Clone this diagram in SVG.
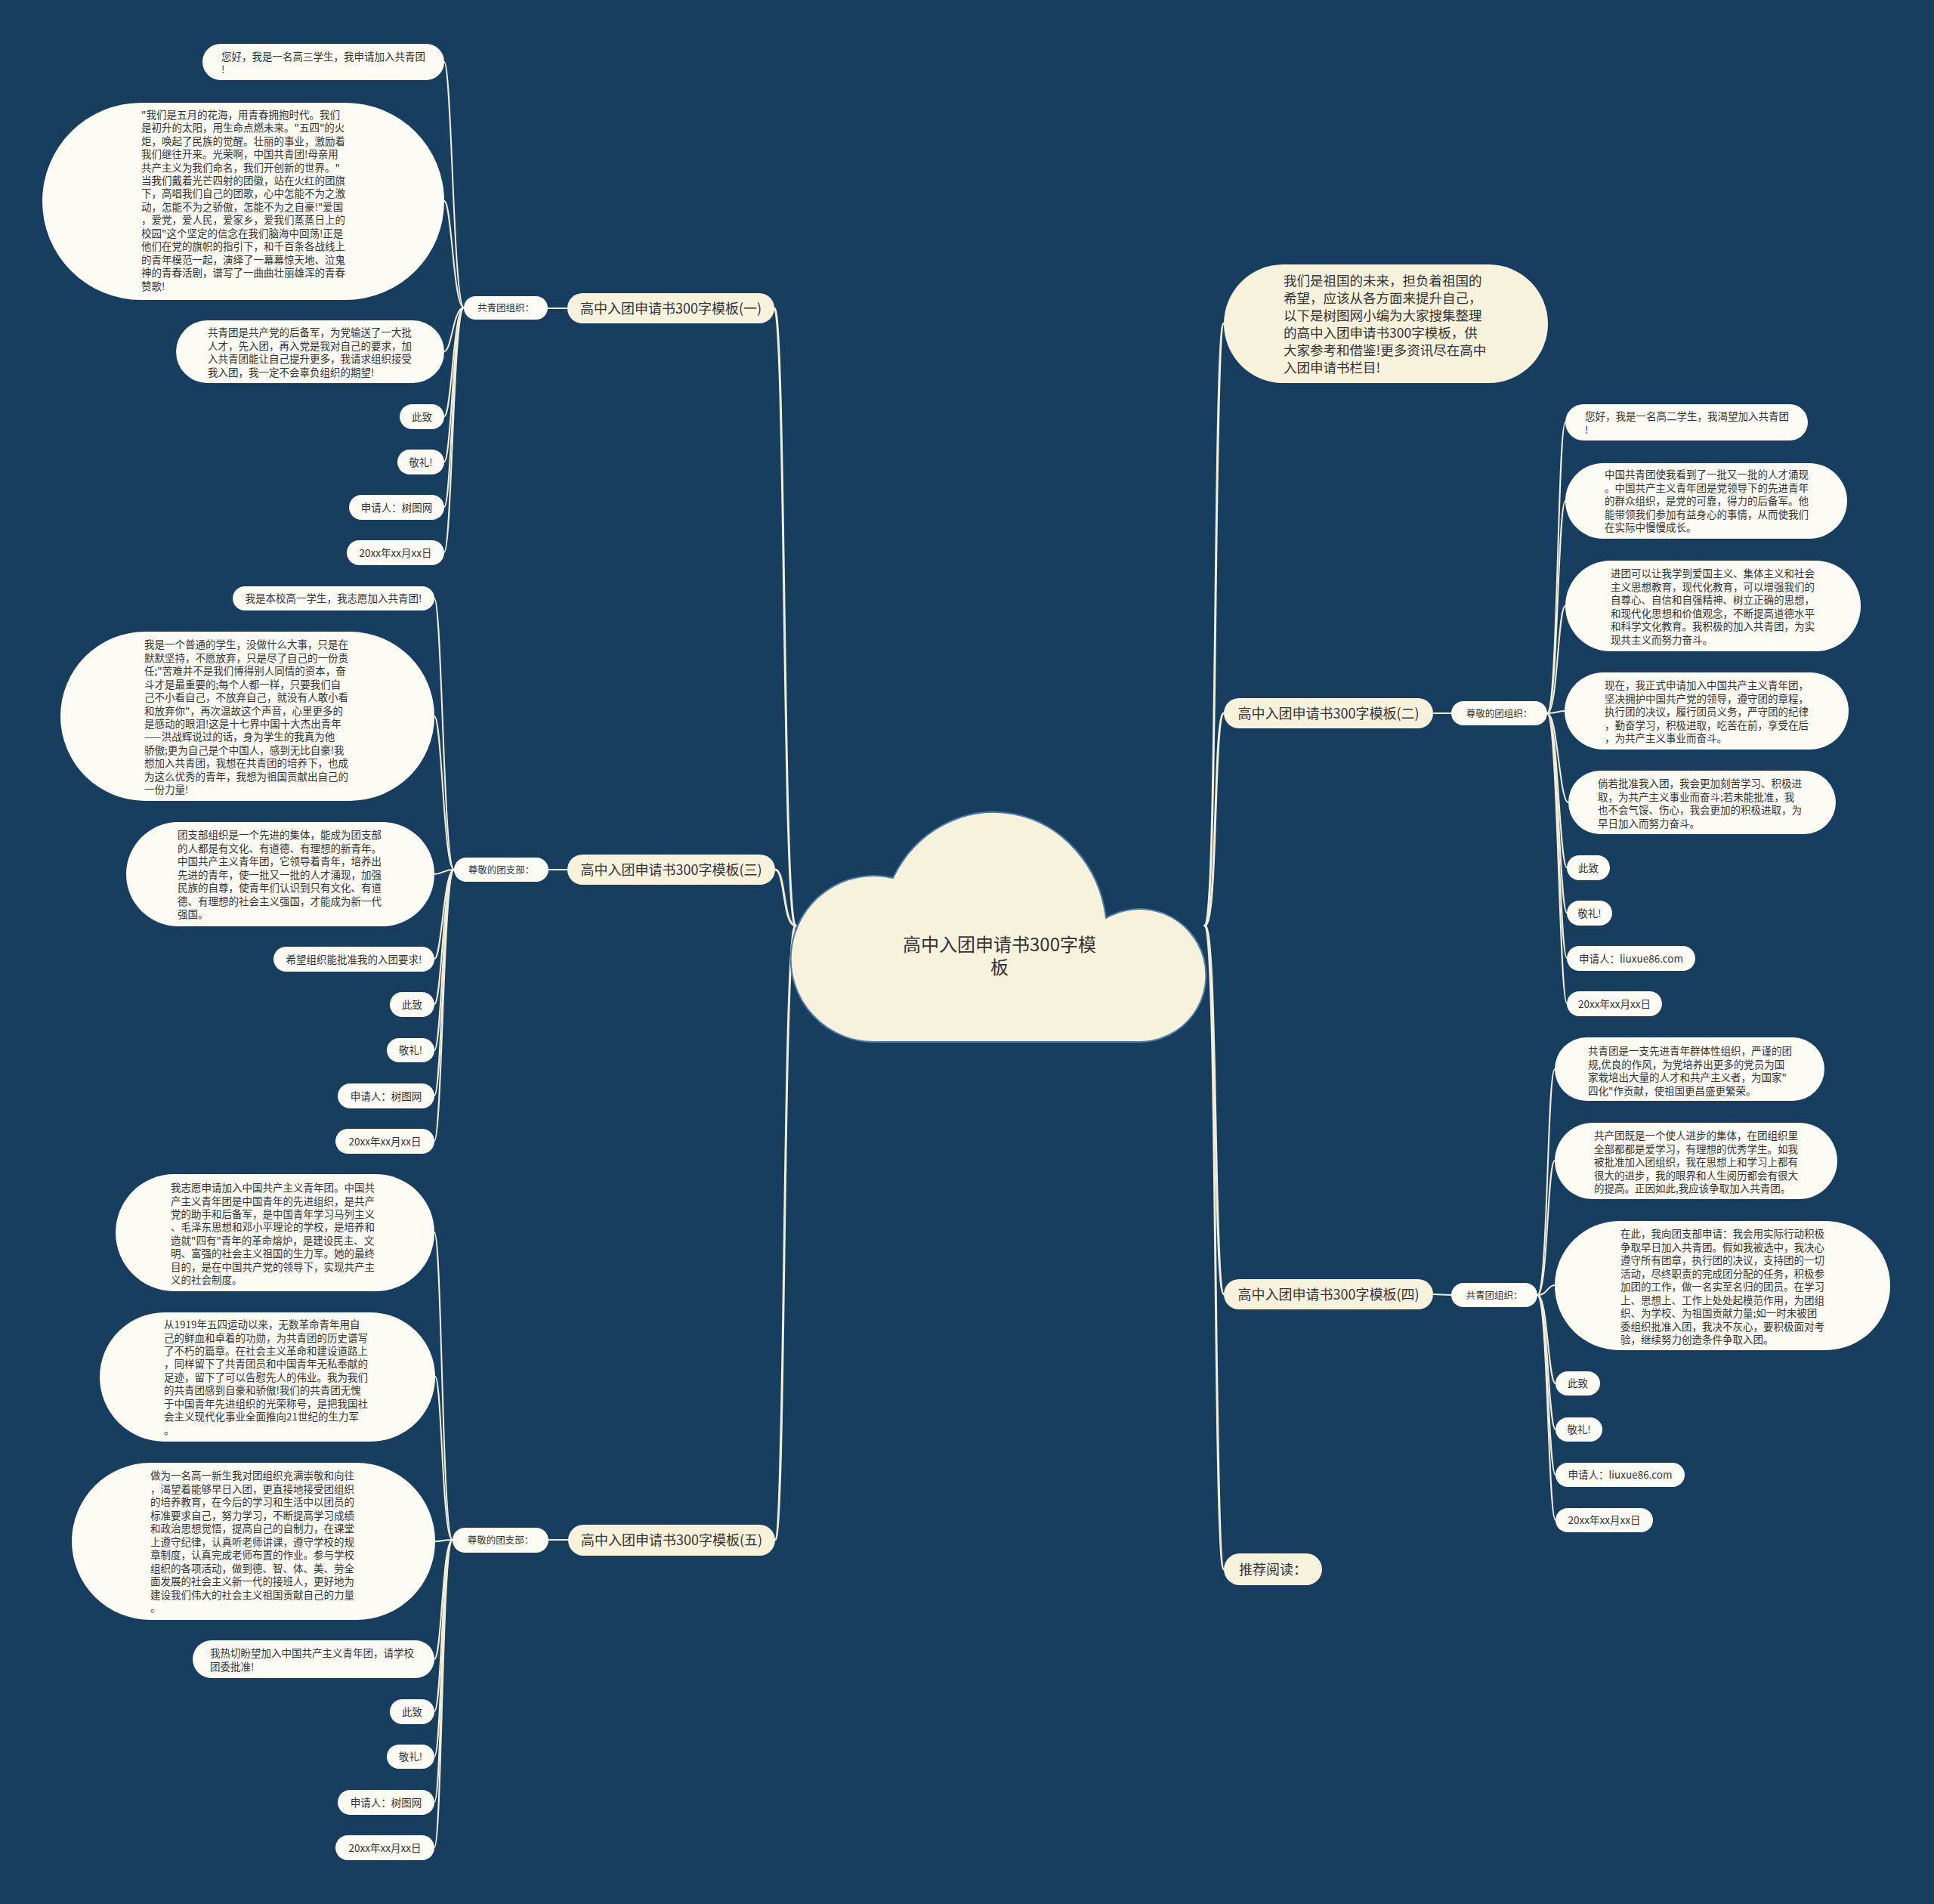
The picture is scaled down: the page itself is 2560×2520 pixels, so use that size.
<svg xmlns="http://www.w3.org/2000/svg" width="2560" height="2520" viewBox="0 0 2560 2520">
<style>
.n{fill:#fcfbf4}
.c{fill:#f7f2dc}
text{font-family:"Noto Sans CJK SC","Noto Sans",sans-serif;fill:#333333}
.t{font-size:13.5px}
.m{font-size:13.5px;text-anchor:middle}
.lb{font-size:12.5px;text-anchor:middle}
.mt{font-size:18px;text-anchor:middle}
.it{font-size:17.5px}
.ct{font-size:24px;text-anchor:middle}
.ln{fill:none;stroke:#f2edd7;stroke-width:2;stroke-linecap:round}
.mln{fill:none;stroke:#f2edd7;stroke-width:3;stroke-linecap:round}
</style>
<rect x="0" y="0" width="2560" height="2520" fill="#183e5f"/>

<g id="connectors">
<path class="mln" d="M1053,1225 C1036,1225 1040,408 1025,408"/>
<path class="mln" d="M1053,1225 C1036,1225 1040,1151 1026,1151"/>
<path class="mln" d="M1053,1225 C1036,1225 1040,2038 1026,2038"/>
<path class="mln" d="M1595,1225 C1612,1225 1606,428 1620,428"/>
<path class="mln" d="M1595,1225 C1612,1225 1606,944 1620,944"/>
<path class="mln" d="M1595,1225 C1612,1225 1606,1713 1620,1713"/>
<path class="mln" d="M1595,1225 C1612,1225 1606,2077 1620,2077"/>
<path class="ln" d="M751,408 L725,408"/>
<path class="ln" d="M751,1151 L726,1151"/>
<path class="ln" d="M752,2038 L726,2038"/>
<path class="ln" d="M1897,944 L1921,944"/>
<path class="ln" d="M1897,1713 L1921,1714"/>
<path class="ln" d="M614,407 C600,407 598,82 588,82"/>
<path class="ln" d="M614,407 C600,407 598,266 588,266"/>
<path class="ln" d="M614,407 C600,407 598,465 588,465"/>
<path class="ln" d="M614,407 C600,407 598,551 588,551"/>
<path class="ln" d="M614,407 C600,407 598,611 588,611"/>
<path class="ln" d="M614,407 C600,407 598,671 588,671"/>
<path class="ln" d="M614,407 C600,407 598,731 588,731"/>
<path class="ln" d="M601,1151 C587,1151 585,792 575,792"/>
<path class="ln" d="M601,1151 C587,1151 585,948 575,948"/>
<path class="ln" d="M601,1151 C587,1151 585,1157 575,1157"/>
<path class="ln" d="M601,1151 C587,1151 585,1269 575,1269"/>
<path class="ln" d="M601,1151 C587,1151 585,1329 575,1329"/>
<path class="ln" d="M601,1151 C587,1151 585,1390 575,1390"/>
<path class="ln" d="M601,1151 C587,1151 585,1450 575,1450"/>
<path class="ln" d="M601,1151 C587,1151 585,1510 575,1510"/>
<path class="ln" d="M599,2038 C585,2038 585,1631 575,1631"/>
<path class="ln" d="M599,2038 C585,2038 585,1822 576,1822"/>
<path class="ln" d="M599,2038 C585,2038 585,2040 576,2040"/>
<path class="ln" d="M599,2038 C585,2038 585,2196 575,2196"/>
<path class="ln" d="M599,2038 C585,2038 585,2265 575,2265"/>
<path class="ln" d="M599,2038 C585,2038 585,2325 575,2325"/>
<path class="ln" d="M599,2038 C585,2038 585,2385 575,2385"/>
<path class="ln" d="M599,2038 C585,2038 585,2445 575,2445"/>
<path class="ln" d="M2048,944 C2062,944 2062,559 2072,559"/>
<path class="ln" d="M2048,944 C2062,944 2062,663 2072,663"/>
<path class="ln" d="M2048,944 C2062,944 2062,802 2072,802"/>
<path class="ln" d="M2048,944 C2062,944 2062,941 2071,941"/>
<path class="ln" d="M2048,944 C2062,944 2064,1062 2076,1062"/>
<path class="ln" d="M2048,944 C2062,944 2064,1148 2074,1148"/>
<path class="ln" d="M2048,944 C2062,944 2064,1208 2074,1208"/>
<path class="ln" d="M2048,944 C2062,944 2064,1268 2074,1268"/>
<path class="ln" d="M2048,944 C2062,944 2064,1328 2074,1328"/>
<path class="ln" d="M2035,1714 C2049,1714 2048,1415 2058,1415"/>
<path class="ln" d="M2035,1714 C2049,1714 2048,1536 2058,1536"/>
<path class="ln" d="M2035,1714 C2049,1714 2048,1701 2058,1701"/>
<path class="ln" d="M2035,1714 C2049,1714 2049,1831 2059,1831"/>
<path class="ln" d="M2035,1714 C2049,1714 2049,1892 2059,1892"/>
<path class="ln" d="M2035,1714 C2049,1714 2049,1952 2059,1952"/>
<path class="ln" d="M2035,1714 C2049,1714 2049,2012 2059,2012"/>
</g>

<g id="center">
<path d="M1160,1379 A110,110 0 1 1 1182,1162 A150,161 0 0 1 1464,1215 A88,88 0 1 1 1510,1379 Z" fill="#f7f2dc" stroke="#4d7ca5" stroke-width="2"/>
<text class="ct" x="1323" y="1258.5">高中入团申请书300字模</text>
<text class="ct" x="1323" y="1288.5">板</text>
</g>

<!-- Branch 一 -->
<g id="b1">
<rect class="c" x="751" y="388" width="274" height="40" rx="20"/>
<text class="mt" x="888" y="414.5">高中入团申请书300字模板(一)</text>
</g>
<g id="b1-label">
<rect class="n" x="614" y="392" width="111" height="31" rx="15.5"/>
<text class="lb" x="669.5" y="412">共青团组织：</text>
</g>
<g id="b1-c1">
<rect class="n" x="268" y="58" width="320" height="48" rx="24"/>
<text class="t"><tspan x="293" y="80">您好，我是一名高三学生，我申请加入共青团</tspan><tspan x="293" y="97">!</tspan></text>
</g>
<g id="b1-c2">
<rect class="n" x="56" y="136" width="532" height="261" rx="130.5"/>
<text class="t"><tspan x="187" y="156.7">"我们是五月的花海，用青春拥抱时代。我们</tspan><tspan x="187" y="174.2">是初升的太阳，用生命点燃未来。"五四"的火</tspan><tspan x="187" y="191.6">炬，唤起了民族的觉醒。壮丽的事业，激励着</tspan><tspan x="187" y="209.1">我们继往开来。光荣啊，中国共青团!母亲用</tspan><tspan x="187" y="226.5">共产主义为我们命名，我们开创新的世界。"</tspan><tspan x="187" y="244">当我们戴着光芒四射的团徽，站在火红的团旗</tspan><tspan x="187" y="261.4">下，高唱我们自己的团歌，心中怎能不为之激</tspan><tspan x="187" y="278.9">动，怎能不为之骄傲，怎能不为之自豪!"爱国</tspan><tspan x="187" y="296.3">，爱党，爱人民，爱家乡，爱我们蒸蒸日上的</tspan><tspan x="187" y="313.8">校园"这个坚定的信念在我们脑海中回荡!正是</tspan><tspan x="187" y="331.2">他们在党的旗帜的指引下，和千百条各战线上</tspan><tspan x="187" y="348.7">的青年模范一起，演绎了一幕幕惊天地、泣鬼</tspan><tspan x="187" y="366.1">神的青春活剧，谱写了一曲曲壮丽雄浑的青春</tspan><tspan x="187" y="383.6">赞歌!</tspan></text>
</g>
<g id="b1-c3">
<rect class="n" x="233" y="424" width="355" height="83" rx="41.5"/>
<text class="t"><tspan x="275" y="445">共青团是共产党的后备军，为党输送了一大批</tspan><tspan x="275" y="462.6">人才，先入团，再入党是我对自己的要求，加</tspan><tspan x="275" y="480.2">入共青团能让自己提升更多，我请求组织接受</tspan><tspan x="275" y="497.8">我入团，我一定不会辜负组织的期望!</tspan></text>
</g>
<g id="b1-c4"><rect class="n" x="529" y="535" width="59" height="33" rx="16.5"/><text class="m" x="558.5" y="556.5">此致</text></g>
<g id="b1-c5"><rect class="n" x="526" y="595" width="62" height="33" rx="16.5"/><text class="m" x="557" y="616.5">敬礼!</text></g>
<g id="b1-c6"><rect class="n" x="462" y="655" width="126" height="33" rx="16.5"/><text class="m" x="525" y="676.5">申请人：树图网</text></g>
<g id="b1-c7"><rect class="n" x="459" y="715" width="129" height="33" rx="16.5"/><text class="m" x="523.5" y="736.5">20xx年xx月xx日</text></g>

<!-- Branch 三 -->
<g id="b3">
<rect class="c" x="751" y="1131" width="275" height="40" rx="20"/>
<text class="mt" x="888.5" y="1157.5">高中入团申请书300字模板(三)</text>
</g>
<g id="b3-label">
<rect class="n" x="601" y="1135" width="125" height="32" rx="16"/>
<text class="lb" x="663.5" y="1155.5">尊敬的团支部：</text>
</g>
<g id="b3-c1"><rect class="n" x="308" y="776" width="267" height="32" rx="16"/><text class="m" x="441.5" y="797">我是本校高一学生，我志愿加入共青团!</text></g>
<g id="b3-c2">
<rect class="n" x="80" y="836" width="495" height="224" rx="112"/>
<text class="t"><tspan x="191" y="858.3">我是一个普通的学生，没做什么大事，只是在</tspan><tspan x="191" y="875.7">默默坚持，不愿放弃，只是尽了自己的一份责</tspan><tspan x="191" y="893.2">任;"苦难并不是我们博得别人同情的资本，奋</tspan><tspan x="191" y="910.6">斗才是最重要的;每个人都一样，只要我们自</tspan><tspan x="191" y="928">己不小看自己，不放弃自己，就没有人敢小看</tspan><tspan x="191" y="945.5">和放弃你"，再次温故这个声音，心里更多的</tspan><tspan x="191" y="962.9">是感动的眼泪!这是十七界中国十大杰出青年</tspan><tspan x="191" y="980.3">——洪战辉说过的话，身为学生的我真为他</tspan><tspan x="191" y="997.7">骄傲;更为自己是个中国人，感到无比自豪!我</tspan><tspan x="191" y="1015.2">想加入共青团，我想在共青团的培养下，也成</tspan><tspan x="191" y="1032.6">为这么优秀的青年，我想为祖国贡献出自己的</tspan><tspan x="191" y="1050">一份力量!</tspan></text>
</g>
<g id="b3-c3">
<rect class="n" x="167" y="1088" width="408" height="138" rx="69"/>
<text class="t"><tspan x="235" y="1110">团支部组织是一个先进的集体，能成为团支部</tspan><tspan x="235" y="1127.5">的人都是有文化、有道德、有理想的新青年。</tspan><tspan x="235" y="1145">中国共产主义青年团，它领导着青年，培养出</tspan><tspan x="235" y="1162.5">先进的青年，使一批又一批的人才涌现，加强</tspan><tspan x="235" y="1180">民族的自尊，使青年们认识到只有文化、有道</tspan><tspan x="235" y="1197.5">德、有理想的社会主义强国，才能成为新一代</tspan><tspan x="235" y="1215">强国。</tspan></text>
</g>
<g id="b3-c4"><rect class="n" x="362" y="1253" width="213" height="33" rx="16.5"/><text class="m" x="468.5" y="1274.5">希望组织能批准我的入团要求!</text></g>
<g id="b3-c5"><rect class="n" x="516" y="1313" width="59" height="33" rx="16.5"/><text class="m" x="545.5" y="1334.5">此致</text></g>
<g id="b3-c6"><rect class="n" x="512" y="1374" width="63" height="32" rx="16"/><text class="m" x="543.5" y="1395">敬礼!</text></g>
<g id="b3-c7"><rect class="n" x="447" y="1434" width="128" height="33" rx="16.5"/><text class="m" x="511" y="1455.5">申请人：树图网</text></g>
<g id="b3-c8"><rect class="n" x="444" y="1494" width="131" height="33" rx="16.5"/><text class="m" x="509.5" y="1515.5">20xx年xx月xx日</text></g>

<!-- Branch 五 -->
<g id="b5">
<rect class="c" x="752" y="2018" width="274" height="41" rx="20.5"/>
<text class="mt" x="889" y="2045">高中入团申请书300字模板(五)</text>
</g>
<g id="b5-label">
<rect class="n" x="599" y="2022" width="127" height="33" rx="16.5"/>
<text class="lb" x="662.5" y="2043">尊敬的团支部：</text>
</g>
<g id="b5-c1">
<rect class="n" x="153" y="1554" width="422" height="155" rx="77.5"/>
<text class="t"><tspan x="226" y="1577">我志愿申请加入中国共产主义青年团。中国共</tspan><tspan x="226" y="1594.5">产主义青年团是中国青年的先进组织，是共产</tspan><tspan x="226" y="1611.9">党的助手和后备军，是中国青年学习马列主义</tspan><tspan x="226" y="1629.4">、毛泽东思想和邓小平理论的学校，是培养和</tspan><tspan x="226" y="1646.8">造就"四有"青年的革命熔炉，是建设民主、文</tspan><tspan x="226" y="1664.3">明、富强的社会主义祖国的生力军。她的最终</tspan><tspan x="226" y="1681.7">目的，是在中国共产党的领导下，实现共产主</tspan><tspan x="226" y="1699.2">义的社会制度。</tspan></text>
</g>
<g id="b5-c2">
<rect class="n" x="132" y="1737" width="444" height="171" rx="85.5"/>
<text class="t"><tspan x="217" y="1758">从1919年五四运动以来，无数革命青年用自</tspan><tspan x="217" y="1775.5">己的鲜血和卓着的功勋，为共青团的历史谱写</tspan><tspan x="217" y="1792.9">了不朽的篇章。在社会主义革命和建设道路上</tspan><tspan x="217" y="1810.4">，同样留下了共青团员和中国青年无私奉献的</tspan><tspan x="217" y="1827.8">足迹，留下了可以告慰先人的伟业。我为我们</tspan><tspan x="217" y="1845.3">的共青团感到自豪和骄傲!我们的共青团无愧</tspan><tspan x="217" y="1862.7">于中国青年先进组织的光荣称号，是把我国社</tspan><tspan x="217" y="1880.2">会主义现代化事业全面推向21世纪的生力军</tspan><tspan x="217" y="1897.6">。</tspan></text>
</g>
<g id="b5-c3">
<rect class="n" x="95" y="1936" width="481" height="208" rx="104"/>
<text class="t"><tspan x="199" y="1958">做为一名高一新生我对团组织充满崇敬和向往</tspan><tspan x="199" y="1975.5">，渴望着能够早日入团，更直接地接受团组织</tspan><tspan x="199" y="1993">的培养教育，在今后的学习和生活中以团员的</tspan><tspan x="199" y="2010.5">标准要求自己，努力学习，不断提高学习成绩</tspan><tspan x="199" y="2028">和政治思想觉悟，提高自己的自制力，在课堂</tspan><tspan x="199" y="2045.5">上遵守纪律，认真听老师讲课，遵守学校的规</tspan><tspan x="199" y="2063">章制度，认真完成老师布置的作业。参与学校</tspan><tspan x="199" y="2080.5">组织的各项活动，做到德、智、体、美、劳全</tspan><tspan x="199" y="2098">面发展的社会主义新一代的接班人，更好地为</tspan><tspan x="199" y="2115.5">建设我们伟大的社会主义祖国贡献自己的力量</tspan><tspan x="199" y="2133">。</tspan></text>
</g>
<g id="b5-c4">
<rect class="n" x="255" y="2171" width="320" height="50" rx="25"/>
<text class="t"><tspan x="278" y="2193">我热切盼望加入中国共产主义青年团，请学校</tspan><tspan x="278" y="2210.5">团委批准!</tspan></text>
</g>
<g id="b5-c5"><rect class="n" x="516" y="2249" width="59" height="33" rx="16.5"/><text class="m" x="545.5" y="2270.5">此致</text></g>
<g id="b5-c6"><rect class="n" x="512" y="2309" width="63" height="32" rx="16"/><text class="m" x="543.5" y="2330">敬礼!</text></g>
<g id="b5-c7"><rect class="n" x="447" y="2369" width="128" height="33" rx="16.5"/><text class="m" x="511" y="2390.5">申请人：树图网</text></g>
<g id="b5-c8"><rect class="n" x="444" y="2429" width="131" height="33" rx="16.5"/><text class="m" x="509.5" y="2450.5">20xx年xx月xx日</text></g>

<!-- Right: intro -->
<g id="intro">
<rect class="c" x="1620" y="350" width="429" height="157" rx="78.5"/>
<text class="it"><tspan x="1699" y="378.3">我们是祖国的未来，担负着祖国的</tspan><tspan x="1699" y="401.3">希望，应该从各方面来提升自己，</tspan><tspan x="1699" y="424.3">以下是树图网小编为大家搜集整理</tspan><tspan x="1699" y="447.3">的高中入团申请书300字模板，供</tspan><tspan x="1699" y="470.3">大家参考和借鉴!更多资讯尽在高中</tspan><tspan x="1699" y="493.3">入团申请书栏目!</tspan></text>
</g>

<!-- Branch 二 -->
<g id="b2">
<rect class="c" x="1620" y="924" width="277" height="40" rx="20"/>
<text class="mt" x="1758.5" y="950.5">高中入团申请书300字模板(二)</text>
</g>
<g id="b2-label">
<rect class="n" x="1921" y="928" width="127" height="32" rx="16"/>
<text class="lb" x="1984.5" y="948.5">尊敬的团组织：</text>
</g>
<g id="b2-c1">
<rect class="n" x="2072" y="535" width="321" height="48" rx="24"/>
<text class="t"><tspan x="2098" y="556">您好，我是一名高二学生，我渴望加入共青团</tspan><tspan x="2098" y="573.5">!</tspan></text>
</g>
<g id="b2-c2">
<rect class="n" x="2072" y="613" width="373" height="100" rx="50"/>
<text class="t"><tspan x="2124" y="633">中国共青团使我看到了一批又一批的人才涌现</tspan><tspan x="2124" y="650.5">。中国共产主义青年团是党领导下的先进青年</tspan><tspan x="2124" y="668">的群众组织，是党的可靠，得力的后备军。他</tspan><tspan x="2124" y="685.5">能带领我们参加有益身心的事情，从而使我们</tspan><tspan x="2124" y="703">在实际中慢慢成长。</tspan></text>
</g>
<g id="b2-c3">
<rect class="n" x="2072" y="742" width="391" height="120" rx="60"/>
<text class="t"><tspan x="2132" y="764">进团可以让我学到爱国主义、集体主义和社会</tspan><tspan x="2132" y="781.5">主义思想教育，现代化教育，可以增强我们的</tspan><tspan x="2132" y="799">自尊心、自信和自强精神、树立正确的思想，</tspan><tspan x="2132" y="816.5">和现代化思想和价值观念，不断提高道德水平</tspan><tspan x="2132" y="834">和科学文化教育。我积极的加入共青团，为实</tspan><tspan x="2132" y="851.5">现共主义而努力奋斗。</tspan></text>
</g>
<g id="b2-c4">
<rect class="n" x="2071" y="890" width="376" height="102" rx="51"/>
<text class="t"><tspan x="2124" y="912">现在，我正式申请加入中国共产主义青年团，</tspan><tspan x="2124" y="929.5">坚决拥护中国共产党的领导，遵守团的章程，</tspan><tspan x="2124" y="947">执行团的决议，履行团员义务，严守团的纪律</tspan><tspan x="2124" y="964.5">，勤奋学习，积极进取，吃苦在前，享受在后</tspan><tspan x="2124" y="982">，为共产主义事业而奋斗。</tspan></text>
</g>
<g id="b2-c5">
<rect class="n" x="2076" y="1020" width="354" height="84" rx="42"/>
<text class="t"><tspan x="2115" y="1042">倘若批准我入团，我会更加刻苦学习、积极进</tspan><tspan x="2115" y="1059.5">取，为共产主义事业而奋斗;若未能批准，我</tspan><tspan x="2115" y="1077">也不会气馁、伤心，我会更加的积极进取，为</tspan><tspan x="2115" y="1094.5">早日加入而努力奋斗。</tspan></text>
</g>
<g id="b2-c6"><rect class="n" x="2074" y="1132" width="57" height="33" rx="16.5"/><text class="m" x="2102.5" y="1153.5">此致</text></g>
<g id="b2-c7"><rect class="n" x="2074" y="1192" width="60" height="33" rx="16.5"/><text class="m" x="2104" y="1213.5">敬礼!</text></g>
<g id="b2-c8"><rect class="n" x="2074" y="1252" width="170" height="33" rx="16.5"/><text class="m" x="2159" y="1273.5">申请人：liuxue86.com</text></g>
<g id="b2-c9"><rect class="n" x="2074" y="1312" width="126" height="33" rx="16.5"/><text class="m" x="2137" y="1333.5">20xx年xx月xx日</text></g>

<!-- Branch 四 -->
<g id="b4">
<rect class="c" x="1620" y="1693" width="277" height="40" rx="20"/>
<text class="mt" x="1758.5" y="1719.5">高中入团申请书300字模板(四)</text>
</g>
<g id="b4-label">
<rect class="n" x="1921" y="1698" width="114" height="32" rx="16"/>
<text class="lb" x="1978" y="1718.5">共青团组织：</text>
</g>
<g id="b4-c1">
<rect class="n" x="2058" y="1373" width="357" height="84" rx="42"/>
<text class="t"><tspan x="2102" y="1396">共青团是一支先进青年群体性组织，严谨的团</tspan><tspan x="2102" y="1413.5">规,优良的作风，为党培养出更多的党员为国</tspan><tspan x="2102" y="1431">家栽培出大量的人才和共产主义者，为国家"</tspan><tspan x="2102" y="1448.5">四化"作贡献，使祖国更昌盛更繁荣。</tspan></text>
</g>
<g id="b4-c2">
<rect class="n" x="2058" y="1486" width="374" height="101" rx="50.5"/>
<text class="t"><tspan x="2110" y="1508">共产团既是一个使人进步的集体，在团组织里</tspan><tspan x="2110" y="1525.5">全部都都是爱学习，有理想的优秀学生。如我</tspan><tspan x="2110" y="1543">被批准加入团组织，我在思想上和学习上都有</tspan><tspan x="2110" y="1560.5">很大的进步，我的眼界和人生阅历都会有很大</tspan><tspan x="2110" y="1578">的提高。正因如此,我应该争取加入共青团。</tspan></text>
</g>
<g id="b4-c3">
<rect class="n" x="2058" y="1616" width="444" height="171" rx="85.5"/>
<text class="t"><tspan x="2145" y="1638">在此，我向团支部申请：我会用实际行动积极</tspan><tspan x="2145" y="1655.5">争取早日加入共青团。假如我被选中，我决心</tspan><tspan x="2145" y="1673">遵守所有团章，执行团的决议，支持团的一切</tspan><tspan x="2145" y="1690.5">活动，尽终职责的完成团分配的任务，积极参</tspan><tspan x="2145" y="1708">加团的工作，做一名实至名归的团员。在学习</tspan><tspan x="2145" y="1725.5">上、思想上、工作上处处起模范作用，为团组</tspan><tspan x="2145" y="1743">织、为学校、为祖国贡献力量;如一时未被团</tspan><tspan x="2145" y="1760.5">委组织批准入团，我决不灰心，要积极面对考</tspan><tspan x="2145" y="1778">验，继续努力创造条件争取入团。</tspan></text>
</g>
<g id="b4-c4"><rect class="n" x="2059" y="1815" width="59" height="32" rx="16"/><text class="m" x="2088.5" y="1836">此致</text></g>
<g id="b4-c5"><rect class="n" x="2059" y="1876" width="62" height="32" rx="16"/><text class="m" x="2090" y="1897">敬礼!</text></g>
<g id="b4-c6"><rect class="n" x="2059" y="1936" width="171" height="32" rx="16"/><text class="m" x="2144.5" y="1957">申请人：liuxue86.com</text></g>
<g id="b4-c7"><rect class="n" x="2059" y="1996" width="129" height="32" rx="16"/><text class="m" x="2123.5" y="2017">20xx年xx月xx日</text></g>

<g id="recommend">
<rect class="c" x="1620" y="2056" width="130" height="42" rx="21"/>
<text class="mt" x="1685" y="2083.5">推荐阅读：</text>
</g>
</svg>
